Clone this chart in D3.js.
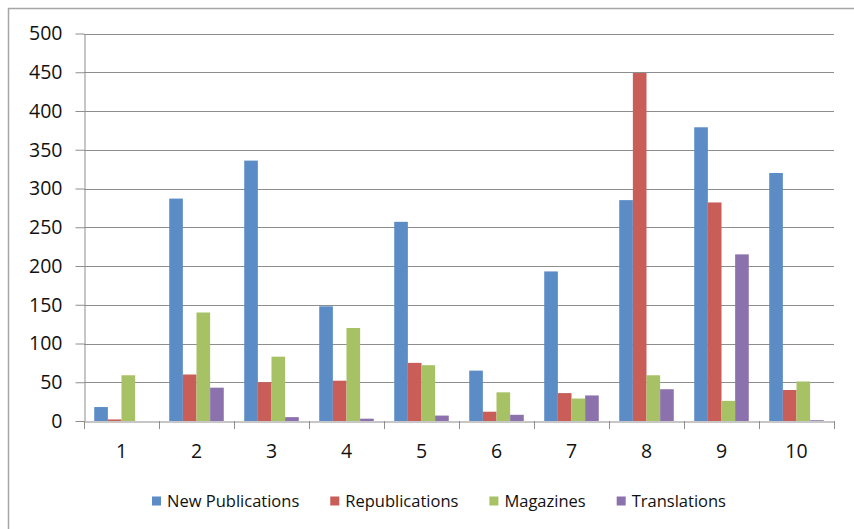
<!DOCTYPE html>
<html>
<head>
<meta charset="utf-8">
<script src="https://cdn.jsdelivr.net/npm/d3@7"></script>
<style>
  html, body { margin: 0; padding: 0; background: #fff; }
  svg { display: block; }
  text { font-family: "Open Sans", sans-serif; fill: #111; }
</style>
</head>
<body>
<svg id="chart" width="854" height="529"></svg>
<script>
// Groups along the x axis
const categories = ["1", "2", "3", "4", "5", "6", "7", "8", "9", "10"];

// Series names, shown in the legend
const seriesNames = ["New Publications", "Republications", "Magazines", "Translations"];

// Values per group for each series
const newPublications = [18, 287, 336, 148, 257, 65, 193, 285, 379, 320];
const republications  = [2, 60, 50, 52, 75, 12, 36, 449, 282, 40];
const magazines       = [59, 140, 83, 120, 72, 37, 29, 59, 26, 51];
const translations    = [0, 43, 5, 3, 7, 8, 33, 41, 215, 1];

// Value axis ticks
const yTicks = [0, 50, 100, 150, 200, 250, 300, 350, 400, 450, 500];

const seriesValues = [newPublications, republications, magazines, translations];
const colors = ["#5b8cc6", "#c95d58", "#a6c264", "#8c72ac"];

const svg = d3.select("#chart");
const plot = { left: 84, right: 834, top: 33.5, bottom: 421 };

// Outer chart frame
svg.append("rect")
  .attr("x", 8.5).attr("y", 8.5)
  .attr("width", 860).attr("height", 540)
  .attr("fill", "none")
  .attr("stroke", "#a6a6a6")
  .attr("stroke-width", 1.5);

const x = d3.scaleBand()
  .domain(categories)
  .range([plot.left, plot.right])
  .paddingInner(0).paddingOuter(0);

const xInner = d3.scaleBand()
  .domain(d3.range(seriesNames.length))
  .range([0, x.bandwidth()])
  .paddingInner(0).paddingOuter(0.75);

const y = d3.scaleLinear()
  .domain([0, 500])
  .range([plot.bottom, plot.top]);

// Horizontal gridlines
svg.append("g")
  .selectAll("line")
  .data(yTicks.filter(d => d > 0))
  .join("line")
  .attr("x1", plot.left).attr("x2", plot.right)
  .attr("y1", d => Math.round(y(d)) + 0.5).attr("y2", d => Math.round(y(d)) + 0.5)
  .attr("stroke", "#8e8e8e").attr("stroke-width", 1);

// Bars
const rows = categories.map((c, i) => ({ cat: c, vals: seriesValues.map(s => s[i]) }));
svg.append("g")
  .selectAll("g")
  .data(rows)
  .join("g")
  .attr("transform", d => `translate(${x(d.cat)},0)`)
  .selectAll("rect")
  .data(d => d.vals.map((v, k) => ({ v, k })))
  .join("rect")
  .attr("x", d => xInner(d.k))
  .attr("width", xInner.bandwidth())
  .attr("y", d => y(d.v))
  .attr("height", d => plot.bottom - y(d.v))
  .attr("fill", d => colors[d.k]);

// Value axis
const yAxis = svg.append("g")
  .attr("transform", `translate(${plot.left + 0.5},0)`)
  .call(d3.axisLeft(y).tickValues(yTicks).tickSize(9).tickPadding(13).tickSizeOuter(0));
yAxis.select(".domain").attr("stroke", "#8e8e8e");
yAxis.selectAll(".tick line").attr("stroke", "#8e8e8e");
yAxis.selectAll(".tick text")
  .style("font-family", "'Open Sans', sans-serif")
  .style("font-size", "19.5px")
  .attr("fill", "#111");

// Category axis
const xAxis = svg.append("g")
  .attr("transform", `translate(0,${plot.bottom + 0.5})`)
  .call(d3.axisBottom(x).tickSize(0).tickPadding(23).tickSizeOuter(0));
xAxis.select(".domain").attr("stroke", "#8e8e8e");
xAxis.selectAll(".tick text")
  .style("font-family", "'Open Sans', sans-serif")
  .style("font-size", "19.5px")
  .attr("fill", "#111");

// Category boundary ticks
svg.append("g")
  .selectAll("line")
  .data(categories.concat(["end"]))
  .join("line")
  .attr("x1", (d, i) => Math.round(plot.left + i * x.step()) + 0.5)
  .attr("x2", (d, i) => Math.round(plot.left + i * x.step()) + 0.5)
  .attr("y1", plot.bottom).attr("y2", plot.bottom + 8)
  .attr("stroke", "#8e8e8e");

// Legend
const legend = svg.append("g").attr("transform", "translate(152,501)");
let cursor = 0;
seriesNames.forEach((name, k) => {
  const item = legend.append("g").attr("transform", `translate(${cursor},0)`);
  item.append("rect")
    .attr("x", 0).attr("y", -4.5)
    .attr("width", 9).attr("height", 9)
    .attr("fill", colors[k]);
  const t = item.append("text")
    .attr("x", 15).attr("y", 0)
    .attr("dy", "0.35em")
    .style("font-size", "16.5px")
    .attr("fill", "#222")
    .text(name);
  cursor += 15 + t.node().getComputedTextLength() + 31;
});
</script>
</body>
</html>
